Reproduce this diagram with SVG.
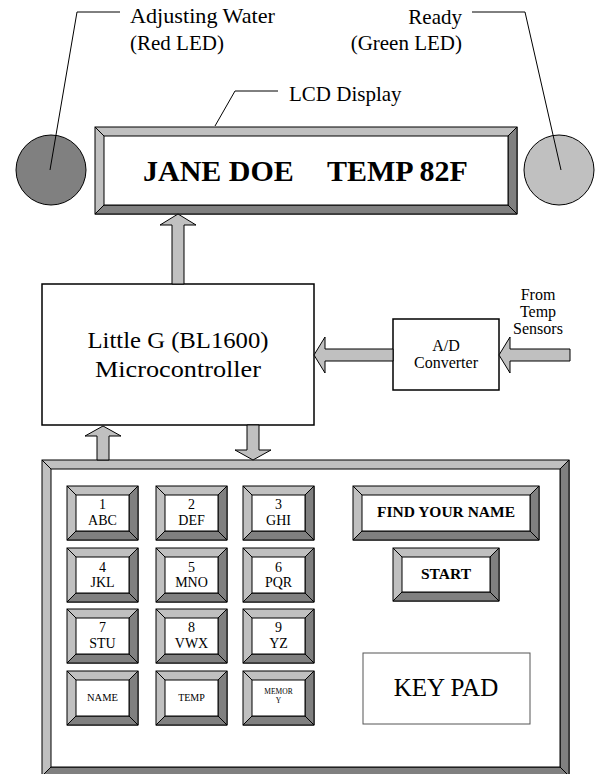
<svg xmlns="http://www.w3.org/2000/svg" width="595" height="774" viewBox="0 0 595 774">
<style>
text{font-family:"Liberation Serif","Times New Roman",serif;fill:#000}
.lt{fill:#c0c0c0;stroke:#000;stroke-width:1}
.dk{fill:#808080;stroke:#000;stroke-width:1}
.in{fill:#fff;stroke:#000;stroke-width:1}
.dg{fill:none;stroke:#000;stroke-width:1}
.arr{fill:#c0c0c0;stroke:#000;stroke-width:1}
.lead{fill:none;stroke:#000;stroke-width:1}
.box{fill:#fff;stroke:#000;stroke-width:1.5}
.c{text-anchor:middle}
.k{font-size:14px}
.b{font-weight:bold}
.lbl{font-size:21px}
</style>
<rect width="595" height="774" fill="#fff"/>

<g id="red-led">
<circle cx="51" cy="170" r="35" fill="#808080" stroke="#000" stroke-width="1"/>
<polyline class="lead" points="120,12 77,12 50,170"/>
<text x="130" y="23" class="lbl" textLength="145" lengthAdjust="spacingAndGlyphs">Adjusting Water</text>
<text x="130" y="50" class="lbl">(Red LED)</text>
</g>

<g id="green-led">
<circle cx="559" cy="170" r="35" fill="#c0c0c0" stroke="#000" stroke-width="1"/>
<polyline class="lead" points="472,12 525,12 561,170"/>
<text x="462" y="24" class="lbl" text-anchor="end">Ready</text>
<text x="462" y="50" class="lbl" text-anchor="end">(Green LED)</text>
</g>

<g id="lcd">
<rect class="lt" x="95" y="127" width="422" height="87"/>
<polygon class="dk" points="517,127 517,214 95,214 104,205 508,205 508,136"/>
<rect class="in" x="104" y="136" width="404" height="69"/>
<path class="dg" d="M95,127L104,136M517,127L508,136M95,214L104,205M517,214L508,205"/>
<text x="143" y="181" font-size="30" class="b">JANE DOE</text>
<text x="327" y="181" font-size="30" class="b">TEMP 82F</text>
<polyline class="lead" points="278,91 235,91 215,126"/>
<text x="289" y="101" class="lbl">LCD Display</text>
</g>

<g id="microcontroller">
<rect class="box" x="42" y="284" width="272" height="141"/>
<text x="178" y="348" font-size="24" class="c" textLength="181" lengthAdjust="spacingAndGlyphs">Little G (BL1600)</text>
<text x="178" y="377" font-size="24" class="c" textLength="166" lengthAdjust="spacingAndGlyphs">Microcontroller</text>
</g>

<g id="ad-converter">
<rect class="box" x="393" y="319" width="106" height="71"/>
<text x="446" y="351" font-size="16" class="c">A/D</text>
<text x="446" y="368" font-size="16" class="c">Converter</text>
</g>

<g id="sensors-label">
<text x="538" y="300" font-size="16" class="c">From</text>
<text x="538" y="317" font-size="16" class="c">Temp</text>
<text x="538" y="334" font-size="16" class="c">Sensors</text>
</g>

<g id="keypad">
<rect class="lt" x="42" y="460" width="527" height="316"/>
<polygon class="dk" points="569,460 569,776 42,776 51,767 560,767 560,469"/>
<rect class="in" x="51" y="469" width="509" height="298"/>
<path class="dg" d="M42,460L51,469M569,460L560,469M42,776L51,767M569,776L560,767"/>
</g>

<g id="key-1">
<rect class="lt" x="67" y="486" width="71" height="54"/>
<polygon class="dk" points="138,486 138,540 67,540 76,531 129,531 129,495"/>
<rect class="in" x="76" y="495" width="53" height="36"/>
<path class="dg" d="M67,486L76,495M138,486L129,495M67,540L76,531M138,540L129,531"/>
<text x="102.5" y="509" class="k c">1</text><text x="102.5" y="525" class="k c">ABC</text>
</g>
<g id="key-2">
<rect class="lt" x="156" y="486" width="71" height="54"/>
<polygon class="dk" points="227,486 227,540 156,540 165,531 218,531 218,495"/>
<rect class="in" x="165" y="495" width="53" height="36"/>
<path class="dg" d="M156,486L165,495M227,486L218,495M156,540L165,531M227,540L218,531"/>
<text x="191.5" y="509" class="k c">2</text><text x="191.5" y="525" class="k c">DEF</text>
</g>
<g id="key-3">
<rect class="lt" x="243" y="486" width="71" height="54"/>
<polygon class="dk" points="314,486 314,540 243,540 252,531 305,531 305,495"/>
<rect class="in" x="252" y="495" width="53" height="36"/>
<path class="dg" d="M243,486L252,495M314,486L305,495M243,540L252,531M314,540L305,531"/>
<text x="278.5" y="509" class="k c">3</text><text x="278.5" y="525" class="k c">GHI</text>
</g>

<g id="key-4">
<rect class="lt" x="67" y="548" width="71" height="54"/>
<polygon class="dk" points="138,548 138,602 67,602 76,593 129,593 129,557"/>
<rect class="in" x="76" y="557" width="53" height="36"/>
<path class="dg" d="M67,548L76,557M138,548L129,557M67,602L76,593M138,602L129,593"/>
<text x="102.5" y="572" class="k c">4</text><text x="102.5" y="587" class="k c">JKL</text>
</g>
<g id="key-5">
<rect class="lt" x="156" y="548" width="71" height="54"/>
<polygon class="dk" points="227,548 227,602 156,602 165,593 218,593 218,557"/>
<rect class="in" x="165" y="557" width="53" height="36"/>
<path class="dg" d="M156,548L165,557M227,548L218,557M156,602L165,593M227,602L218,593"/>
<text x="191.5" y="572" class="k c">5</text><text x="191.5" y="587" class="k c">MNO</text>
</g>
<g id="key-6">
<rect class="lt" x="243" y="548" width="71" height="54"/>
<polygon class="dk" points="314,548 314,602 243,602 252,593 305,593 305,557"/>
<rect class="in" x="252" y="557" width="53" height="36"/>
<path class="dg" d="M243,548L252,557M314,548L305,557M243,602L252,593M314,602L305,593"/>
<text x="278.5" y="572" class="k c">6</text><text x="278.5" y="587" class="k c">PQR</text>
</g>

<g id="key-7">
<rect class="lt" x="67" y="609" width="71" height="54"/>
<polygon class="dk" points="138,609 138,663 67,663 76,654 129,654 129,618"/>
<rect class="in" x="76" y="618" width="53" height="36"/>
<path class="dg" d="M67,609L76,618M138,609L129,618M67,663L76,654M138,663L129,654"/>
<text x="102.5" y="632" class="k c">7</text><text x="102.5" y="648" class="k c">STU</text>
</g>
<g id="key-8">
<rect class="lt" x="156" y="609" width="71" height="54"/>
<polygon class="dk" points="227,609 227,663 156,663 165,654 218,654 218,618"/>
<rect class="in" x="165" y="618" width="53" height="36"/>
<path class="dg" d="M156,609L165,618M227,609L218,618M156,663L165,654M227,663L218,654"/>
<text x="191.5" y="632" class="k c">8</text><text x="191.5" y="648" class="k c">VWX</text>
</g>
<g id="key-9">
<rect class="lt" x="243" y="609" width="71" height="54"/>
<polygon class="dk" points="314,609 314,663 243,663 252,654 305,654 305,618"/>
<rect class="in" x="252" y="618" width="53" height="36"/>
<path class="dg" d="M243,609L252,618M314,609L305,618M243,663L252,654M314,663L305,654"/>
<text x="278.5" y="632" class="k c">9</text><text x="278.5" y="648" class="k c">YZ</text>
</g>

<g id="key-name">
<rect class="lt" x="67" y="671" width="71" height="54"/>
<polygon class="dk" points="138,671 138,725 67,725 76,716 129,716 129,680"/>
<rect class="in" x="76" y="680" width="53" height="36"/>
<path class="dg" d="M67,671L76,680M138,671L129,680M67,725L76,716M138,725L129,716"/>
<text x="102.5" y="701" font-size="10.5" class="c">NAME</text>
</g>
<g id="key-temp">
<rect class="lt" x="156" y="671" width="71" height="54"/>
<polygon class="dk" points="227,671 227,725 156,725 165,716 218,716 218,680"/>
<rect class="in" x="165" y="680" width="53" height="36"/>
<path class="dg" d="M156,671L165,680M227,671L218,680M156,725L165,716M227,725L218,716"/>
<text x="191.5" y="701" font-size="10" class="c">TEMP</text>
</g>
<g id="key-memory">
<rect class="lt" x="243" y="671" width="71" height="54"/>
<polygon class="dk" points="314,671 314,725 243,725 252,716 305,716 305,680"/>
<rect class="in" x="252" y="680" width="53" height="36"/>
<path class="dg" d="M243,671L252,680M314,671L305,680M243,725L252,716M314,725L305,716"/>
<text x="278.5" y="694" font-size="7.5" class="c">MEMOR</text>
<text x="278.5" y="703" font-size="7.5" class="c">Y</text>
</g>

<g id="find-your-name">
<rect class="lt" x="353" y="486" width="186" height="54"/>
<polygon class="dk" points="539,486 539,540 353,540 362,531 530,531 530,495"/>
<rect class="in" x="362" y="495" width="168" height="36"/>
<path class="dg" d="M353,486L362,495M539,486L530,495M353,540L362,531M539,540L530,531"/>
<text x="446" y="517" font-size="15.5" class="b c">FIND YOUR NAME</text>
</g>

<g id="start">
<rect class="lt" x="393" y="548" width="106" height="53"/>
<polygon class="dk" points="499,548 499,601 393,601 402,592 490,592 490,557"/>
<rect class="in" x="402" y="557" width="88" height="35"/>
<path class="dg" d="M393,548L402,557M499,548L490,557M393,601L402,592M499,601L490,592"/>
<text x="446" y="579" font-size="15.5" class="b c">START</text>
</g>

<g id="keypad-label">
<rect x="363" y="653" width="167" height="71" fill="#fff" stroke="#555" stroke-width="1"/>
<text x="446" y="696" font-size="25" class="c">KEY PAD</text>
</g>

<g id="connectors">
<polygon class="arr" points="178,214 196,225 184,225 184,284 172,284 172,225 160,225"/>
<polygon class="arr" points="103,426 121,436 109,436 109,460 97,460 97,436 85,436"/>
<polygon class="arr" points="247,425 259,425 259,450 271,450 253,460 235,450 247,450"/>
<polygon class="arr" points="314,355 325,337 325,349 393,349 393,361 325,361 325,373"/>
<polygon class="arr" points="499,355 510,337 510,349 570,349 570,361 510,361 510,373"/>
</g>
</svg>
